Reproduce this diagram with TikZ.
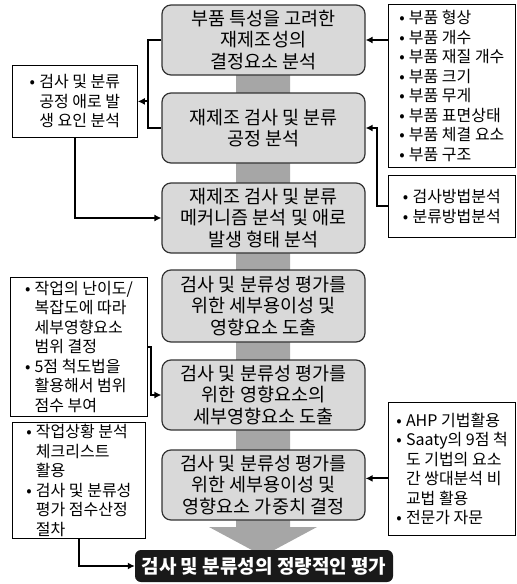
\documentclass[tikz,border=0pt]{standalone}
\usepackage{fontspec}
\setmainfont{Noto Sans CJK KR}
\usetikzlibrary{arrows.meta,calc}
\definecolor{boxfill}{HTML}{D9D9D9}
\definecolor{barfill}{HTML}{A6A6A6}
\definecolor{boxline}{HTML}{333333}
\newcommand{\bu}{\makebox[0.6em][l]{•}}
\newcommand{\ind}{\hspace*{0.6em}}
\tikzset{
  mainbox/.style={draw=boxline, line width=1.2pt, fill=boxfill, rounded corners=9pt,
    minimum width=203pt, minimum height=70pt, align=center, inner sep=0pt,
    font=\fontsize{18.5}{21.5}\selectfont},
  sidebox/.style={draw=black, line width=0.8pt, fill=white, align=left, inner xsep=8pt, inner ysep=0pt,
    font=\fontsize{16}{19.5}\selectfont, anchor=north west},
  conn/.style={line width=1.9pt, -{Latex[length=7pt,width=7pt]}},
  plain/.style={line width=1.9pt},
}
\begin{document}
\begin{tikzpicture}[x=1pt,y=-1pt]
\useasboundingbox (0,0) rectangle (517,584);
% grey flow bar with arrow head
\fill[barfill] (236,40) -- (290,40) -- (290,527) -- (317,527) -- (263,556) -- (209,527) -- (236,527) -- cycle;
% main boxes
\node[mainbox] (b1) at (263.5,40) {부품 특성을 고려한\\재제조성의\\결정요소 분석};
\node[mainbox] (b2) at (263.5,128) {재제조 검사 및 분류\\공정 분석};
\node[mainbox] (b3) at (263.5,218) {재제조 검사 및 분류\\메커니즘 분석 및 애로\\발생 형태 분석};
\node[mainbox, minimum height=72pt] (b4) at (263.5,306) {검사 및 분류성 평가를\\위한 세부용이성 및\\영향요소 도출};
\node[mainbox] (b5) at (263.5,395) {검사 및 분류성 평가를\\위한 영향요소의\\세부영향요소 도출};
\node[mainbox] (b6) at (263.5,485) {검사 및 분류성 평가를\\위한 세부용이성 및\\영향요소 가중치 결정};
% result box
\node[fill=black!90, rounded corners=6pt, minimum width=258pt, minimum height=32pt, inner sep=0pt,
  text=white, font=\fontsize{19}{21}\selectfont\bfseries] (R) at (264,566) {검사 및 분류성의 정량적인 평가};
% side boxes
\node[sidebox, minimum width=127pt, minimum height=163pt] (A) at (388,4) {%
\bu 부품 형상\\\bu 부품 개수\\\bu 부품 재질 개수\\\bu 부품 크기\\\bu 부품 무게\\\bu 부품 표면상태\\\bu 부품 체결 요소\\\bu 부품 구조};
\node[sidebox, minimum width=127pt, minimum height=62pt] (B) at (388,175) {\bu 검사방법분석\\\bu 분류방법분석};
\node[sidebox, minimum width=125pt, minimum height=72pt] (C) at (12,65) {\bu 검사 및 분류\\\ind 공정 애로 발\\\ind 생 요인 분석};
\node[sidebox, minimum width=137pt, minimum height=139pt] (D) at (10,277) {\bu 작업의 난이도/\\\ind 복잡도에 따라\\\ind 세부영향요소\\\ind 범위 결정\\\bu 5점 척도법을\\\ind 활용해서 범위\\\ind 점수 부여};
\node[sidebox, minimum width=133pt, minimum height=116pt] (E) at (12,422) {\bu 작업상황 분석\\\ind 체크리스트\\\ind 활용\\\bu 검사 및 분류성\\\ind 평가 점수산정\\\ind 절차};
\node[sidebox, minimum width=127pt, minimum height=133pt] (F) at (388,402) {\bu AHP 기법활용\\\bu Saaty의 9점 척\\\ind 도 기법의 요소\\\ind 간 쌍대분석 비\\\ind 교법 활용\\\bu 전문가 자문};
% connectors
\draw[conn] (A.west |- b1.east) -- (b1.east);
\draw[conn] (B.west) -- ++(-11,0) |- (b2.east);
\draw[plain, line cap=butt] (b1.west) -- ++(-13,0) coordinate (t) |- (b2.west);
\draw[conn] (t |- C.east) -- (C.east);
\draw[conn] (C.south) |- (b3.west);
\draw[conn] (D.east) -- ++(3,0) |- (b5.west);
\draw[conn] (E.south) |- (R.west);
\coordinate (f1) at ($(F.west)+(0,9.5)$);
\draw[conn] (f1) -- (f1 -| b6.east);
\end{tikzpicture}
\end{document}
